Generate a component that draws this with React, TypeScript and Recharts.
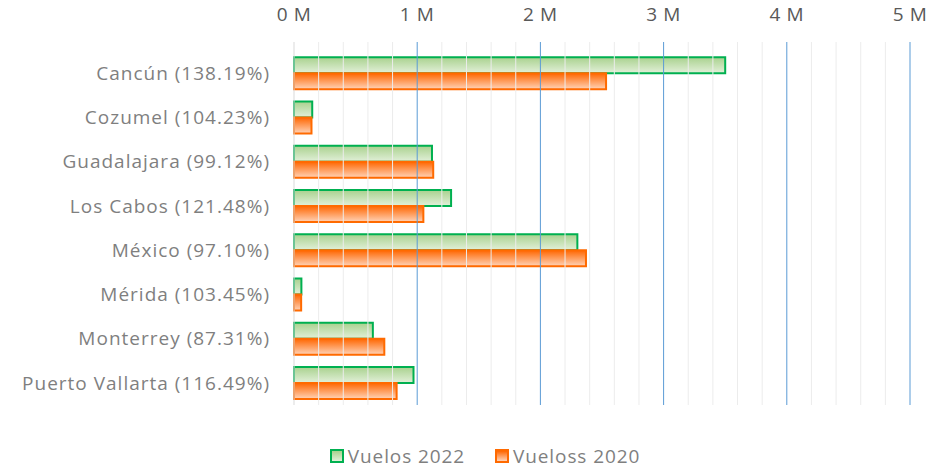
import React from "react";
import { BarChart, Bar, XAxis, YAxis, ReferenceLine, Legend } from "recharts";

const categories = [
  "Cancún (138.19%)",
  "Cozumel (104.23%)",
  "Guadalajara (99.12%)",
  "Los Cabos (121.48%)",
  "México (97.10%)",
  "Mérida (103.45%)",
  "Monterrey (87.31%)",
  "Puerto Vallarta (116.49%)",
];
const vuelos2022 = [3500000, 148000, 1120000, 1275000, 2300000, 60000, 640000, 970000];
const vuelos2020 = [2533000, 142000, 1130000, 1050000, 2370000, 58000, 733000, 833000];
const majorTicks = [0, 1000000, 2000000, 3000000, 4000000, 5000000];
const minorTicks = [
  200000, 400000, 600000, 800000, 1200000, 1400000, 1600000, 1800000, 2200000, 2400000,
  2600000, 2800000, 3200000, 3400000, 3600000, 3800000, 4200000, 4400000, 4600000, 4800000,
];
const seriesNames = ["Vuelos 2022", "Vueloss 2020"];

const data = categories.map((c, i) => ({ name: c, v2022: vuelos2022[i], v2020: vuelos2020[i] }));

const FONT = "'Open Sans', sans-serif";

const LegendContent = () => (
  <div style={{ display: "flex", justifyContent: "center", alignItems: "center", fontFamily: FONT, fontSize: 19, letterSpacing: 0.9, color: "#7f7f7f", height: 24, paddingLeft: 60 }}>
    <span style={{ display: "inline-block", width: 10, height: 10, border: "2px solid #00b050", background: "linear-gradient(#a9d18e,#e2f0d9)", marginRight: 4 }} />
    <span style={{ marginRight: 30 }}>{seriesNames[0]}</span>
    <span style={{ display: "inline-block", width: 10, height: 10, border: "2px solid #ff6a00", background: "linear-gradient(#ff6600,#ffd3b8)", marginRight: 4 }} />
    <span>{seriesNames[1]}</span>
  </div>
);

export default function App() {
  return (
    <div style={{ position: "absolute", left: 0, top: 0, background: "#fff" }}>
      <BarChart
        width={940}
        height={468}
        data={data}
        layout="vertical"
        margin={{ top: 12, right: 30, left: 0, bottom: 39 }}
        barCategoryGap="14%"
        barGap={0}
      >
        <defs>
          <linearGradient id="gGreen" x1="0" y1="0" x2="0" y2="1">
            <stop offset="0%" stopColor="#a9d18e" />
            <stop offset="100%" stopColor="#e2f0d9" />
          </linearGradient>
          <linearGradient id="gOrange" x1="0" y1="0" x2="0" y2="1">
            <stop offset="0%" stopColor="#ff6600" />
            <stop offset="100%" stopColor="#ffd3b8" />
          </linearGradient>
        </defs>
        {minorTicks.map((t) => (
          <ReferenceLine key={"m" + t} x={t} stroke="#ececec" strokeWidth={1} />
        ))}
        {majorTicks.map((t) => (
          <ReferenceLine key={"M" + t} x={t} stroke={t === 0 ? "#d9d9d9" : "#5b9bd5"} strokeWidth={1} />
        ))}
        <XAxis
          type="number"
          orientation="top"
          height={30}
          domain={[0, 5000000]}
          ticks={majorTicks}
          tickFormatter={(v) => `${v / 1000000} M`}
          axisLine={false}
          tickLine={false}
          tickSize={0}
          tickMargin={21}
          tick={{ fill: "#595959", fontSize: 19, fontFamily: FONT, letterSpacing: 0.6 }}
        />
        <YAxis
          type="category"
          dataKey="name"
          width={294}
          axisLine={false}
          tickLine={false}
          tickSize={0}
          tickMargin={24}
          padding={{ top: 9, bottom: 0 }}
          tick={{ fill: "#7f7f7f", fontSize: 19, fontFamily: FONT, letterSpacing: 1 }}
          interval={0}
        />
        <Bar dataKey="v2022" name={seriesNames[0]} fill="url(#gGreen)" stroke="#00b050" strokeWidth={2} isAnimationActive={false} />
        <Bar dataKey="v2020" name={seriesNames[1]} fill="url(#gOrange)" stroke="#ff6a00" strokeWidth={2} isAnimationActive={false} />
        <Legend verticalAlign="bottom" content={<LegendContent />} wrapperStyle={{ bottom: 0 }} />
      </BarChart>
    </div>
  );
}
